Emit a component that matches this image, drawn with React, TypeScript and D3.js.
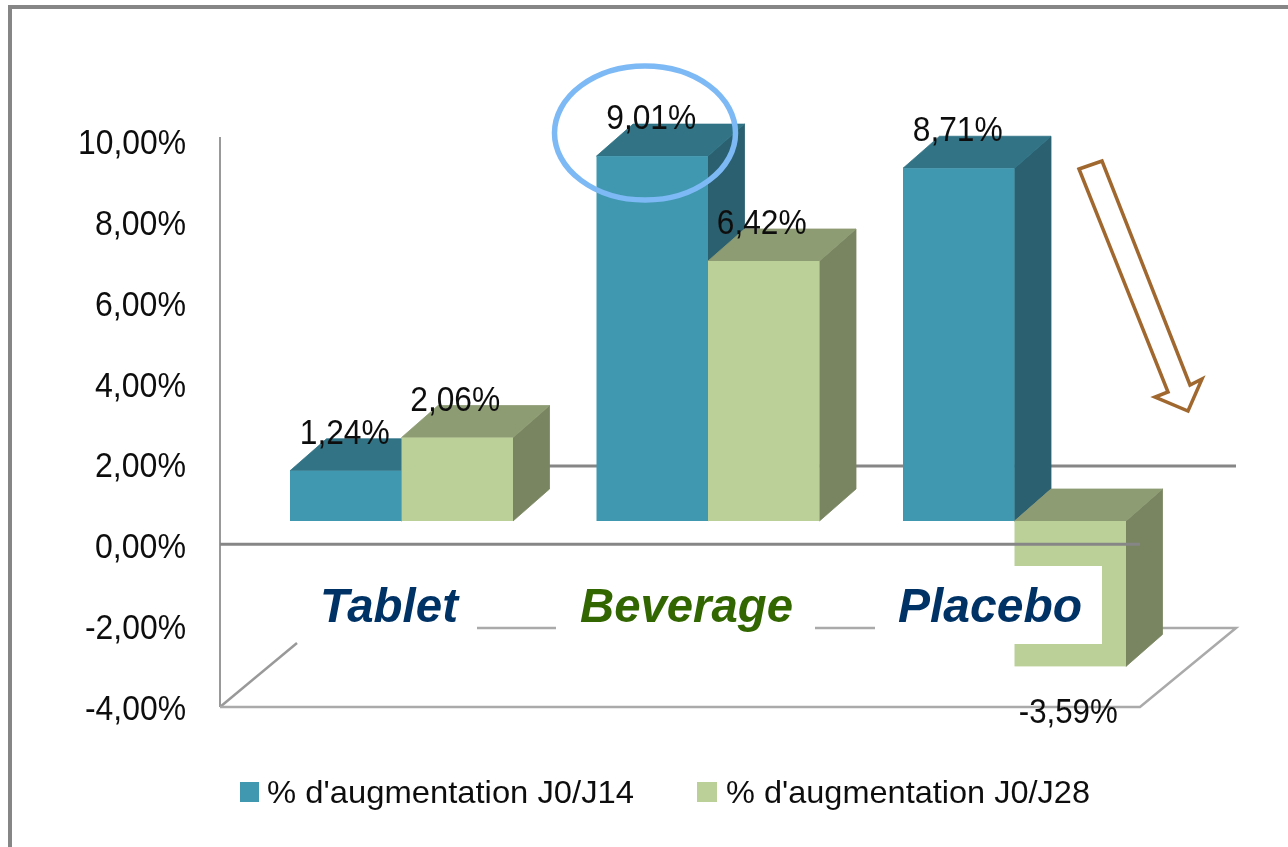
import React from "react";
import * as d3 from "d3";

const categories = ["Tablet", "Beverage", "Placebo"];
const categoryColors = ["#003366", "#336600", "#003366"];
const seriesJ14 = [1.24, 9.01, 8.71];
const seriesJ28 = [2.06, 6.42, -3.59];
const labelsJ14 = ["1,24%", "9,01%", "8,71%"];
const labelsJ28 = ["2,06%", "6,42%", "-3,59%"];
const tickValues = [10, 8, 6, 4, 2, 0, -2, -4];
const tickLabels = ["10,00%", "8,00%", "6,00%", "4,00%", "2,00%", "0,00%", "-2,00%", "-4,00%"];
const legendNames = ["% d'augmentation J0/J14", "% d'augmentation J0/J28"];

const W = 1288, H = 847;
const grey = "#868686";
const FONT = "'Liberation Sans',sans-serif";
const teal = { front: "#4198B0", top: "#307386", side: "#2A606F" };
const green = { front: "#BBD098", top: "#8E9C73", side: "#788560" };

const yBar = d3.scaleLinear().domain([0, 10]).range([521, 116]);
const yAxis = d3.scaleLinear().domain([-4, 10]).range([707, 137]);
const yTickText = d3.scaleLinear().domain([-4, 10]).range([720, 154]);
const xCat = d3.scaleBand().domain(categories).range([290, 1209.5]).paddingInner(0).paddingOuter(0);
const barW = 111.5;
const dx = 36.5, dy = -32;

function Bar({ x, v, c }: { x: number; v: number; c: typeof teal }) {
  const y0 = yBar(0), y1 = yBar(v);
  const t = Math.min(y0, y1), b = Math.max(y0, y1);
  const r = x + barW;
  return (
    <g>
      <polygon points={`${r},${t} ${r + dx},${t + dy} ${r + dx},${b + dy} ${r},${b}`} fill={c.side} stroke={c.side} strokeWidth={0.8} />
      <polygon points={`${x},${t} ${x + dx},${t + dy} ${r + dx},${t + dy} ${r},${t}`} fill={c.top} stroke={c.top} strokeWidth={0.8} />
      <rect x={x} y={t} width={barW} height={b - t} fill={c.front} />
    </g>
  );
}

function Lbl({ x, y, w, children, anchor = "middle", size = 35 }: any) {
  return (
    <text x={x} y={y} textAnchor={anchor} fontFamily={FONT} fontSize={size} fill="#111" textLength={w} lengthAdjust="spacingAndGlyphs">
      {children}
    </text>
  );
}

export default function App() {
  return (
    <svg width={W} height={H} viewBox={`0 0 ${W} ${H}`} style={{ position: "absolute", left: 0, top: 0, background: "#fff" }}>
      <defs>
        <filter id="soft" x="0" y="0" width="100%" height="100%">
          <feGaussianBlur stdDeviation="0.55" />
        </filter>
      </defs>
      <g filter="url(#soft)">
        <rect width={W} height={H} fill="#fff" />
        <path d={`M1288,7H10V847`} fill="none" stroke={grey} strokeWidth={4} />

        <line x1={220} x2={220} y1={yAxis(10)} y2={yAxis(-4)} stroke="#999" strokeWidth={2} />
        <path d={`M220,707L297,643`} stroke="#999" strokeWidth={2.5} fill="none" />
        <path d={`M220,707H1140L1236,628H300`} stroke="#aaa" strokeWidth={2.5} fill="none" />
        <line x1={297} x2={1236} y1={466} y2={466} stroke={grey} strokeWidth={3} />

        {categories.map((c, i) => {
          const x = xCat(c)!;
          return (
            <g key={c}>
              <Bar x={x} v={seriesJ14[i]} c={teal} />
              <Bar x={x + barW} v={seriesJ28[i]} c={green} />
            </g>
          );
        })}

        <line x1={220} x2={1140} y1={yAxis(0)} y2={yAxis(0)} stroke={grey} strokeWidth={3} />

        <rect x={300} y={566} width={177} height={78} fill="#fff" />
        <rect x={556} y={566} width={259} height={78} fill="#fff" />
        <rect x={875} y={566} width={227} height={78} fill="#fff" />

        {categories.map((c, i) => {
          const cx = [389, 686.5, 990][i];
          const w = [138, 213, 184][i];
          return (
            <text key={c} x={cx} y={622} textAnchor="middle" fontFamily={FONT} fontWeight="bold" fontStyle="italic" fontSize={48} fill={categoryColors[i]} textLength={w} lengthAdjust="spacingAndGlyphs">
              {c}
            </text>
          );
        })}

        {tickValues.map((v, i) => (
          <Lbl key={v} x={186} y={yTickText(v)} anchor="end" w={tickLabels[i].length === 5 ? 91 : tickLabels[i].startsWith("-") ? 101 : 108}>
            {tickLabels[i]}
          </Lbl>
        ))}

        {categories.map((c, i) => {
          const x = xCat(c)!;
          return (
            <g key={c}>
              <Lbl x={x + barW / 2 - 1} y={yBar(seriesJ14[i]) - 27} w={90}>{labelsJ14[i]}</Lbl>
              <Lbl x={x + barW * 1.5 - 2} y={seriesJ28[i] < 0 ? yBar(seriesJ28[i]) + 57 : yBar(seriesJ28[i]) - 27} w={seriesJ28[i] < 0 ? 99 : 90}>{labelsJ28[i]}</Lbl>
            </g>
          );
        })}

        <ellipse cx={645} cy={133} rx={90.5} ry={67} fill="none" stroke="#7DB9F5" strokeWidth={5.5} />
        <polygon points="1079,169 1102,161 1190,385 1202,379 1188,411 1155,397 1168,392" fill="#fff" stroke="#A0682F" strokeWidth={3.5} />

        <rect x={240} y={782} width={19} height={20} fill={teal.front} />
        <Lbl x={267} y={803} anchor="start" w={367} size={32}>{legendNames[0]}</Lbl>
        <rect x={697} y={782} width={20} height={20} fill={green.front} />
        <Lbl x={726} y={803} anchor="start" w={364} size={32}>{legendNames[1]}</Lbl>
      </g>
    </svg>
  );
}
